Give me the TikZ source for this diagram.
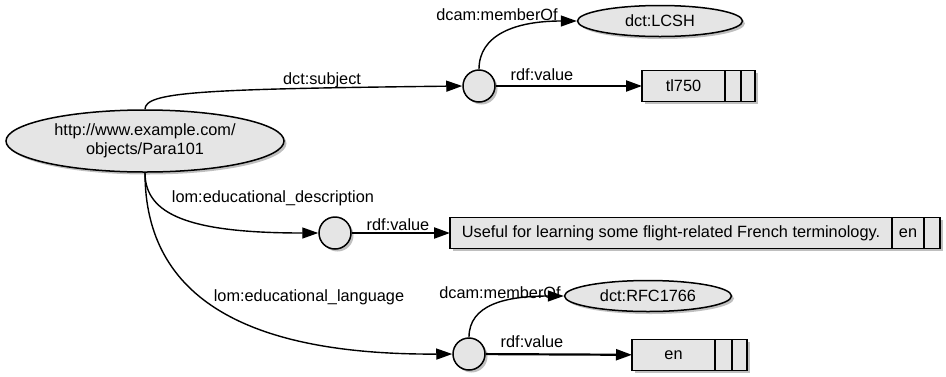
\documentclass[tikz,border=0pt]{standalone}
\usepackage{fontspec}
\setmainfont{Liberation Sans}
\usetikzlibrary{shapes.geometric,shadows,positioning,arrows.meta}
\definecolor{nodegray}{RGB}{229,229,229}

\begin{document}
\begin{tikzpicture}[x=1pt,y=-1pt,
    font=\fontsize{16.3}{19}\selectfont,
    grayshape/.style={fill=nodegray,draw=black,line width=1.5pt,
      drop shadow={shadow xshift=2.5pt,shadow yshift=-2.5pt,fill=black!50}},
    res/.style={grayshape,ellipse,inner sep=0pt},
    blank/.style={grayshape,circle,minimum size=32pt,inner sep=0pt},
    cell/.style={grayshape,rectangle,inner sep=0pt,outer sep=0pt,minimum height=31pt},
    prop/.style={line width=1.4pt,-{Triangle[length=16pt,width=11pt]}},
    val/.style={prop,line width=2.2pt},
    lbl/.style={inner sep=0pt}]
  \useasboundingbox (0,0) rectangle (946,376);

  % resource and its first value
  \node[res,minimum width=278pt,minimum height=62pt,align=center] (para) at (145,141) {http://www.example.com/\\objects/Para101};
  \node[blank] (b1) at (479,86) {};
  \node[res,minimum width=165pt,minimum height=31pt] (lcsh) at (660,21) {dct:LCSH};
  \node[cell,minimum width=83pt] (tl) at (683.5,86) {tl750};
  \node[cell,minimum width=16pt,right=0pt of tl] (tllang) {};
  \node[cell,minimum width=14pt,right=0pt of tllang] (tltype) {};

  % description
  \node[blank] (b2) at (335,233) {};
  \node[cell,minimum width=442pt] (useful) at (671,233) {Useful for learning some flight-related French terminology.};
  \node[cell,minimum width=32pt,right=0pt of useful] (usefullang) {en};
  \node[cell,minimum width=16pt,right=0pt of usefullang] (usefultype) {};

  % language
  \node[blank] (b3) at (469,354) {};
  \node[res,minimum width=167pt,minimum height=31pt] (rfc) at (648,296) {dct:RFC1766};
  \node[cell,minimum width=83pt] (en) at (673.5,355) {en};
  \node[cell,minimum width=17pt,right=0pt of en] (enlang) {};
  \node[cell,minimum width=15pt,right=0pt of enlang] (entype) {};

  \draw[prop] (para.north) .. controls (145,92) and (200,89) .. (b1.west);
  \draw[prop] (para.south) .. controls (145,215) and (190,233) .. (b2.west);
  \draw[prop] (para.south) .. controls (145,300) and (250,355) .. (b3.west);
  \draw[prop] (b1.north) .. controls (479,35) and (515,21) .. (lcsh.west);
  \draw[prop] (b3.north) .. controls (469,305) and (505,296) .. (rfc.west);
  \draw[val] (b1) -- (tl);
  \draw[val] (b2) -- (useful);
  \draw[val] (b3) -- (en);

  \node[lbl] (subjlbl) at (322,80) {dct:subject};
  \node[lbl] (mem1lbl) at (497,15) {dcam:memberOf};
  \node[lbl] (val1lbl) at (542,75) {rdf:value};
  \node[lbl] (desclbl) at (273,198) {lom:educational\_description};
  \node[lbl] (val2lbl) at (398,225) {rdf:value};
  \node[lbl] (langlbl) at (309,297) {lom:educational\_language};
  \node[lbl] (mem2lbl) at (500,293) {dcam:memberOf};
  \node[lbl] (val3lbl) at (532,342) {rdf:value};
\end{tikzpicture}
\end{document}
